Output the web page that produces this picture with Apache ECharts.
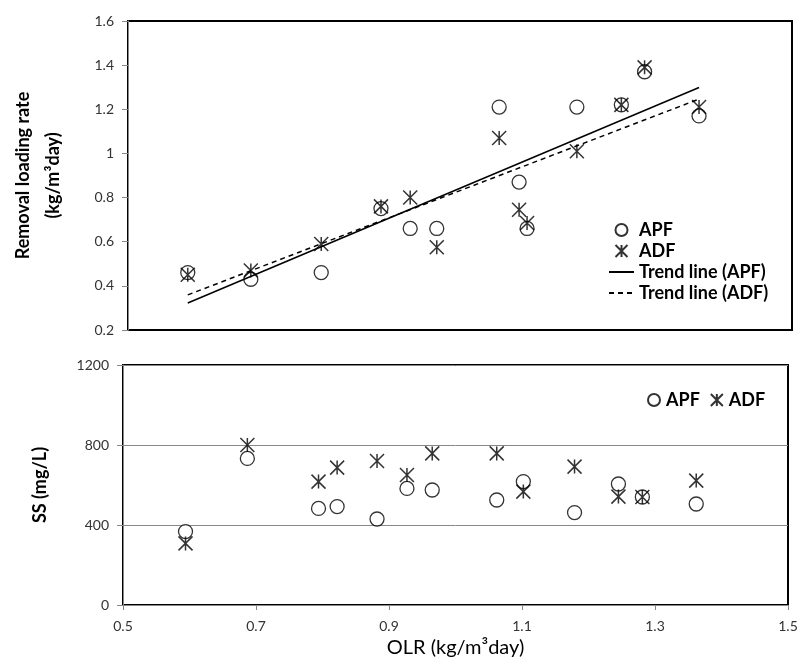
<!DOCTYPE html>
<html>
<head>
<meta charset="utf-8">
<script src="https://cdn.jsdelivr.net/npm/echarts@6/dist/echarts.min.js"></script>
<style>
  html, body { margin: 0; padding: 0; background: #fff; }
  #chart { width: 801px; height: 671px; }
</style>
</head>
<body>
<div id="chart"></div>
<script>
// top panel: removal loading rate vs OLR
var olrTop = [0.590, 0.685, 0.791, 0.881, 0.925, 0.965, 1.059, 1.089, 1.101, 1.176, 1.243, 1.278, 1.360];
var rlrApf = [0.46, 0.43, 0.46, 0.75, 0.66, 0.66, 1.21, 0.87, 0.66, 1.21, 1.22, 1.37, 1.17];
var rlrAdf = [0.45, 0.47, 0.59, 0.76, 0.80, 0.575, 1.07, 0.745, 0.685, 1.01, 1.22, 1.39, 1.21];
var r2Labels = ['R\u00b2 = 0.7611', 'R\u00b2 = 0.7656'];

// bottom panel: SS vs OLR
var olrBottom = [0.594, 0.687, 0.794, 0.822, 0.882, 0.927, 0.965, 1.062, 1.102, 1.179, 1.245, 1.281, 1.362];
var ssApf = [367, 733, 483, 492, 430, 583, 575, 525, 617, 462, 605, 540, 505];
var ssAdf = [308, 800, 617, 687, 720, 650, 758, 758, 567, 692, 542, 540, 622];

var xTicks = [0.5, 1.5, 0.2];
var yTopTicks = [0.2, 1.6, 0.2];
var yBottomTicks = [0, 1200, 400];

var FONT = 'Lato';
var STAR = 'path://M0,0L20,20M0,20L20,0M10,0L10,20';

function pairs(xs, ys) {
  return xs.map(function (x, i) { return [x, ys[i]]; });
}

// least squares trend line, drawn across the data range
function trend(xs, ys) {
  var n = xs.length, mx = 0, my = 0, sxy = 0, sxx = 0;
  for (var i = 0; i < n; i++) { mx += xs[i] / n; my += ys[i] / n; }
  for (var j = 0; j < n; j++) {
    sxy += (xs[j] - mx) * (ys[j] - my);
    sxx += (xs[j] - mx) * (xs[j] - mx);
  }
  var b = sxy / sxx, a = my - b * mx;
  var x0 = Math.min.apply(null, xs), x1 = Math.max.apply(null, xs);
  return [[x0, a + b * x0], [x1, a + b * x1]];
}

var circleStyle = { color: '#fff', borderColor: '#000', borderWidth: 1.3 };
var starStyle = { color: 'rgba(0,0,0,0)', borderColor: '#000', borderWidth: 1.5 };
var noSymbol = { color: 'rgba(0,0,0,0)', borderColor: 'rgba(0,0,0,0)', borderWidth: 0, opacity: 0 };

var apfTrend = trend(olrTop, rlrApf);
var adfTrend = trend(olrTop, rlrAdf);
apfTrend[1] = { value: apfTrend[1], label: { show: true, formatter: r2Labels[0], position: 'top', offset: [22, -2] } };
adfTrend[1] = { value: adfTrend[1], label: { show: true, formatter: r2Labels[1], position: 'bottom', offset: [-40, 25] } };

var legendText = { fontFamily: FONT, fontSize: 18, fontWeight: 'bold', color: '#000' };

var myChart = echarts.init(document.getElementById('chart'));
var option = {
  backgroundColor: '#fff',
  textStyle: { fontFamily: FONT },
  animation: false,
  grid: [
    { left: 122, top: 21, width: 670, height: 309, show: true, borderColor: '#000', borderWidth: 2, backgroundColor: 'transparent' },
    { left: 123, top: 365, width: 665, height: 240, show: true, borderColor: '#000', borderWidth: 2, backgroundColor: 'transparent' }
  ],
  legend: [
    {
      orient: 'vertical', left: 603, top: 216, itemGap: 3, itemWidth: 25, itemHeight: 12,
      textStyle: legendText,
      data: [
        'APF', 'ADF',
        { name: 'Trend line (APF)', itemStyle: noSymbol },
        { name: 'Trend line (ADF)', itemStyle: noSymbol }
      ]
    },
    {
      orient: 'horizontal', left: 642, top: 386, itemGap: 10, itemWidth: 14, itemHeight: 12,
      textStyle: legendText,
      data: ['APF', 'ADF']
    }
  ],
  xAxis: [
    {
      gridIndex: 0, type: 'value', min: xTicks[0], max: xTicks[1], interval: xTicks[2],
      axisLine: { show: false }, axisTick: { show: false }, axisLabel: { show: false }, splitLine: { show: false }
    },
    {
      gridIndex: 1, type: 'value', min: xTicks[0], max: xTicks[1], interval: xTicks[2],
      axisLine: { show: true, lineStyle: { color: '#888' } },
      axisTick: { show: true, length: 5, lineStyle: { color: '#888' } },
      axisLabel: { fontFamily: FONT, fontSize: 14, color: '#333', margin: 14 },
      splitLine: { show: false },
      name: 'OLR (kg/m\u00b3day)', nameLocation: 'middle', nameGap: 33,
      nameTextStyle: { fontFamily: FONT, fontSize: 20, color: '#000' }
    }
  ],
  yAxis: [
    {
      gridIndex: 0, type: 'value', min: yTopTicks[0], max: yTopTicks[1], interval: yTopTicks[2],
      axisLine: { show: true, lineStyle: { color: '#888' } },
      axisTick: { show: true, length: 6, lineStyle: { color: '#888' } },
      axisLabel: { fontFamily: FONT, fontSize: 14, color: '#333', margin: 14 },
      splitLine: { show: false },
      name: 'Removal loading rate\n(kg/m\u00b3day)', nameLocation: 'middle', nameGap: 60, nameRotate: 90,
      nameTextStyle: { fontFamily: FONT, fontSize: 18, fontWeight: 'bold', color: '#000', lineHeight: 30, padding: [0, 0, 0, 0] }
    },
    {
      gridIndex: 1, type: 'value', min: yBottomTicks[0], max: yBottomTicks[1], interval: yBottomTicks[2],
      axisLine: { show: true, lineStyle: { color: '#888' } },
      axisTick: { show: true, length: 6, lineStyle: { color: '#888' } },
      axisLabel: { fontFamily: FONT, fontSize: 14, color: '#333', margin: 14, formatter: function (v) { return String(v); } },
      splitLine: { show: true, lineStyle: { color: '#888', width: 1 } },
      name: 'SS (mg/L)', nameLocation: 'middle', nameGap: 74, nameRotate: 90,
      nameTextStyle: { fontFamily: FONT, fontSize: 18, fontWeight: 'bold', color: '#000' }
    }
  ],
  series: [
    {
      name: 'APF', type: 'scatter', xAxisIndex: 0, yAxisIndex: 0,
      symbol: 'circle', symbolSize: 14, itemStyle: circleStyle, data: pairs(olrTop, rlrApf)
    },
    {
      name: 'ADF', type: 'scatter', xAxisIndex: 0, yAxisIndex: 0,
      symbol: STAR, symbolSize: 14, itemStyle: starStyle, data: pairs(olrTop, rlrAdf)
    },
    {
      name: 'Trend line (APF)', type: 'line', xAxisIndex: 0, yAxisIndex: 0, symbol: 'none',
      lineStyle: { color: '#000', width: 1.5 }, itemStyle: { color: '#000' },
      label: { fontFamily: FONT, fontSize: 11, fontWeight: 'bold', color: '#000' },
      data: apfTrend
    },
    {
      name: 'Trend line (ADF)', type: 'line', xAxisIndex: 0, yAxisIndex: 0, symbol: 'none',
      lineStyle: { color: '#000', width: 1.5, type: [5, 4] }, itemStyle: { color: '#000' },
      label: { fontFamily: FONT, fontSize: 11, fontWeight: 'bold', color: '#000' },
      data: adfTrend
    },
    {
      name: 'APF', type: 'scatter', xAxisIndex: 1, yAxisIndex: 1,
      symbol: 'circle', symbolSize: 14, itemStyle: circleStyle, data: pairs(olrBottom, ssApf)
    },
    {
      name: 'ADF', type: 'scatter', xAxisIndex: 1, yAxisIndex: 1,
      symbol: STAR, symbolSize: 14, itemStyle: starStyle, data: pairs(olrBottom, ssAdf)
    }
  ]
};
myChart.setOption(option);
</script>
</body>
</html>
